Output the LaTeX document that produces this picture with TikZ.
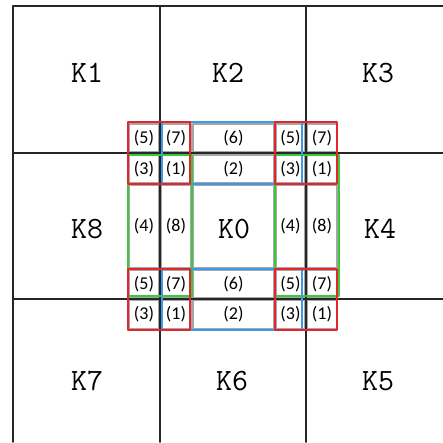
\documentclass[tikz,border=0pt]{standalone}
\usepackage{fontspec}
\newfontfamily\cellfont{Carlito}
\definecolor{cellgray}{HTML}{A6A6A6}
\definecolor{halored}{HTML}{E3262B}
\definecolor{halogreen}{HTML}{3CC83C}
\definecolor{haloblue}{HTML}{3C9BE6}

\tikzset{
  gridline/.style={line width=1.6pt,black!85},
  cellbox/.style={draw=cellgray,line width=1.8pt},
  blocklabel/.style={font=\ttfamily\fontsize{31}{31}\selectfont},
  celllabel/.style={font=\cellfont\fontsize{18}{18}\selectfont},
  halo/.style={line width=1.3pt}
}

\begin{document}
\begin{tikzpicture}[x=1pt,y=-1pt,line cap=round,line join=round]
  \useasboundingbox (0,0) rectangle (443,442);
  % small cells round K0
  \foreach \xa/\xb/\ya/\yb/\lab/\nm in {
      129/159/124/152/(5)/aa, 161/191/124/152/(7)/ab, 193/274/124/152/(6)/ac, 276/305/124/152/(5)/ad, 307/337/124/152/(7)/ae,
      129/159/155/183/(3)/ba, 161/191/155/183/(1)/bb, 193/274/155/183/(2)/bc, 276/305/155/183/(3)/bd, 307/337/155/183/(1)/be,
      129/159/185/268/(4)/ca, 161/191/185/268/(8)/cb, 276/305/185/268/(4)/cd, 307/337/185/268/(8)/ce,
      129/159/270/298/(5)/da, 161/191/270/298/(7)/db, 193/274/270/298/(6)/dc, 276/305/270/298/(5)/dd, 307/337/270/298/(7)/de,
      129/159/300/329/(3)/ea, 161/191/300/329/(1)/eb, 193/274/300/329/(2)/ec, 276/305/300/329/(3)/ed, 307/337/300/329/(1)/ee}
  {
    \draw[cellbox] (\xa,\ya) rectangle (\xb,\yb);
    \node[celllabel] (c\nm) at ({(\xa+\xb)/2},{(\ya+\yb)/2}) {\lab};
  }
  \draw[cellbox] (193,185) rectangle (274,268);
  % block grid
  \draw[gridline] (13,442) -- (13,6) -- (443,6);
  \draw[gridline] (160,6) -- (160,442);
  \draw[gridline] (306,6) -- (306,442);
  \draw[gridline] (13,153) -- (443,153);
  \draw[gridline] (13,299) -- (443,299);
  % halo groups
  \draw[halo,halogreen] (128,155) rectangle (192,296);
  \draw[halo,halogreen] (275,155) rectangle (339,296);
  \draw[halo,haloblue] (162,122) rectangle (302,184);
  \draw[halo,haloblue] (162,269) rectangle (302,330);
  \draw[halo,halored] (128,122) rectangle (190,184);
  \draw[halo,halored] (275,122) rectangle (337,184);
  \draw[halo,halored] (128,269) rectangle (190,330);
  \draw[halo,halored] (275,269) rectangle (337,330);
  % block names
  \node[blocklabel] (k1) at (87,73) {K1};
  \node[blocklabel] (k2) at (228,73) {K2};
  \node[blocklabel] (k3) at (378,73) {K3};
  \node[blocklabel] (k8) at (87,229) {K8};
  \node[blocklabel] (k0) at (234,229) {K0};
  \node[blocklabel] (k4) at (380,229) {K4};
  \node[blocklabel] (k7) at (87,381) {K7};
  \node[blocklabel] (k6) at (232,381) {K6};
  \node[blocklabel] (k5) at (378,381) {K5};
\end{tikzpicture}
\end{document}
